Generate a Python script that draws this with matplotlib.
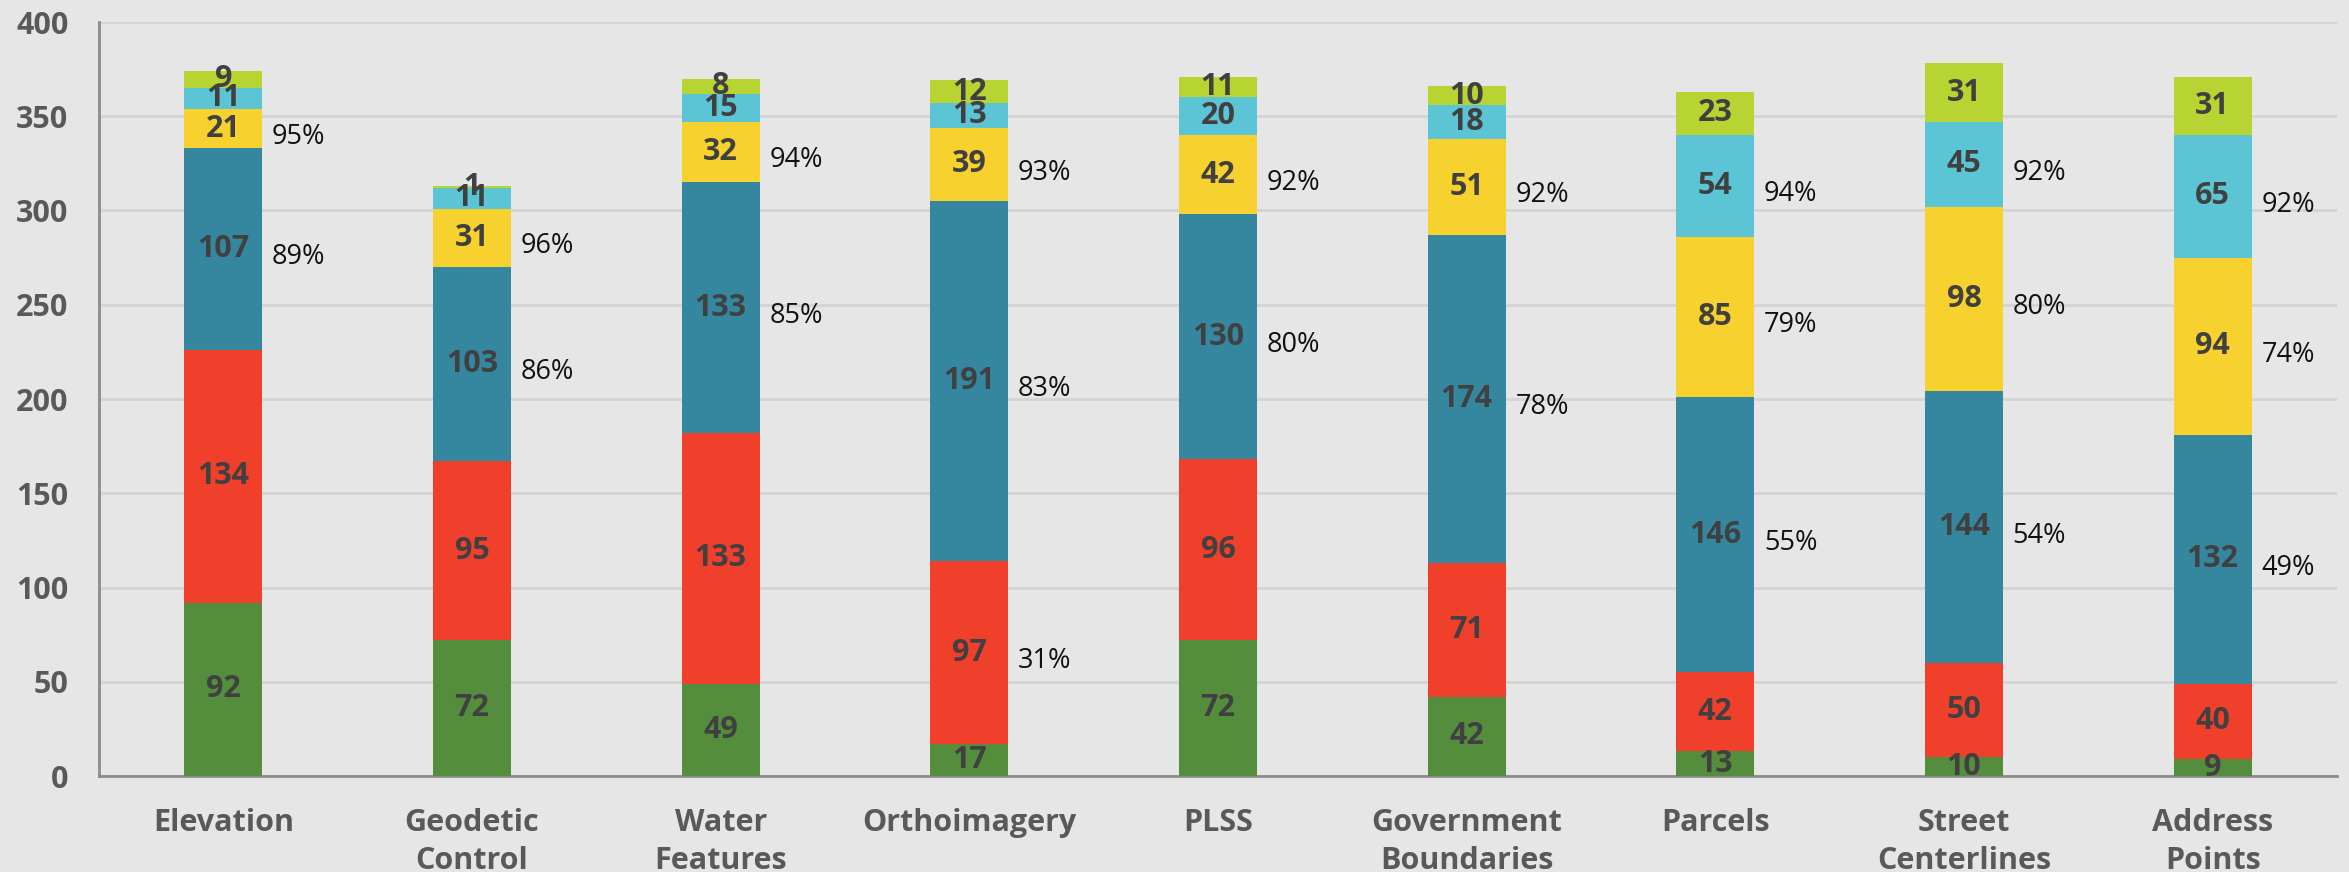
import matplotlib
matplotlib.use("Agg")
import matplotlib.pyplot as plt
import numpy as np

categories = ["Elevation", "Geodetic\nControl", "Water\nFeatures", "Orthoimagery", "PLSS",
              "Government\nBoundaries", "Parcels", "Street\nCenterlines", "Address\nPoints"]

s_green = [92, 72, 49, 17, 72, 42, 13, 10, 9]
s_red = [134, 95, 133, 97, 96, 71, 42, 50, 40]
s_teal = [107, 103, 133, 191, 130, 174, 146, 144, 132]
s_yellow = [21, 31, 32, 39, 42, 51, 85, 98, 94]
s_lblue = [11, 11, 15, 13, 20, 18, 54, 45, 65]
s_lime = [9, 1, 8, 12, 11, 10, 23, 31, 31]

pct_red = [None, None, None, "31%", None, None, None, None, None]
pct_teal = ["89%", "86%", "85%", "83%", "80%", "78%", "55%", "54%", "49%"]
pct_yellow = ["95%", "96%", "94%", "93%", "92%", "92%", "79%", "80%", "74%"]
pct_lblue = [None, None, None, None, None, None, "94%", "92%", "92%"]

series = [s_green, s_red, s_teal, s_yellow, s_lblue, s_lime]
pcts = [None, pct_red, pct_teal, pct_yellow, pct_lblue, None]
colors = ["#548e3c", "#f03f2b", "#3587a0", "#f7d22e", "#5bc5d6", "#b8d432"]

bg = "#e6e6e6"
FONT = ["Open Sans", "DejaVu Sans"]

fig = plt.figure(figsize=(23.49, 8.72), dpi=100, facecolor=bg)
ax = fig.add_axes([99/2349, 1-776/872, (2337-99)/2349, (776-22)/872])
ax.set_facecolor(bg)

x = np.arange(len(categories))
width = 0.314
bottom = np.zeros(len(categories))
for vals, col, pl in zip(series, colors, pcts):
    vals = np.array(vals, dtype=float)
    ax.bar(x, vals, width, bottom=bottom, color=col, zorder=3, linewidth=0)
    for i, (b, v) in enumerate(zip(bottom, vals)):
        ax.text(x[i], b + v/2, f"{int(v)}", ha="center", va="center",
                fontsize=22, fontweight="bold", color="#404040", family=FONT, zorder=4)
        if pl is not None and pl[i] is not None:
            ax.annotate(pl[i], xy=(x[i] + width/2, b + v/2), xytext=(7, -6),
                        textcoords="offset points", ha="left", va="center",
                        fontsize=19.5, color="#111111", family=FONT, zorder=4)
    bottom += vals

ax.set_xlim(-0.5, len(categories) - 0.5)
ax.set_ylim(0, 400)
ax.set_yticks(np.arange(0, 401, 50))
ax.yaxis.grid(True, color="#d4d4d4", linewidth=2, zorder=0)
ax.set_axisbelow(True)
ax.set_xticks(x)
ax.set_xticklabels(categories, linespacing=1.35)
for lab in ax.get_xticklabels() + ax.get_yticklabels():
    lab.set_fontsize(22)
    lab.set_fontweight("bold")
    lab.set_color("#595959")
    lab.set_family(FONT)
ax.tick_params(axis="both", length=0)
ax.tick_params(axis="x", pad=23)
ax.tick_params(axis="y", pad=22)
for s in ["top", "right"]:
    ax.spines[s].set_visible(False)
for s in ["left", "bottom"]:
    ax.spines[s].set_color("#8c8c8c")
    ax.spines[s].set_linewidth(2)

fig.savefig("out.png", dpi=100, facecolor=bg)
